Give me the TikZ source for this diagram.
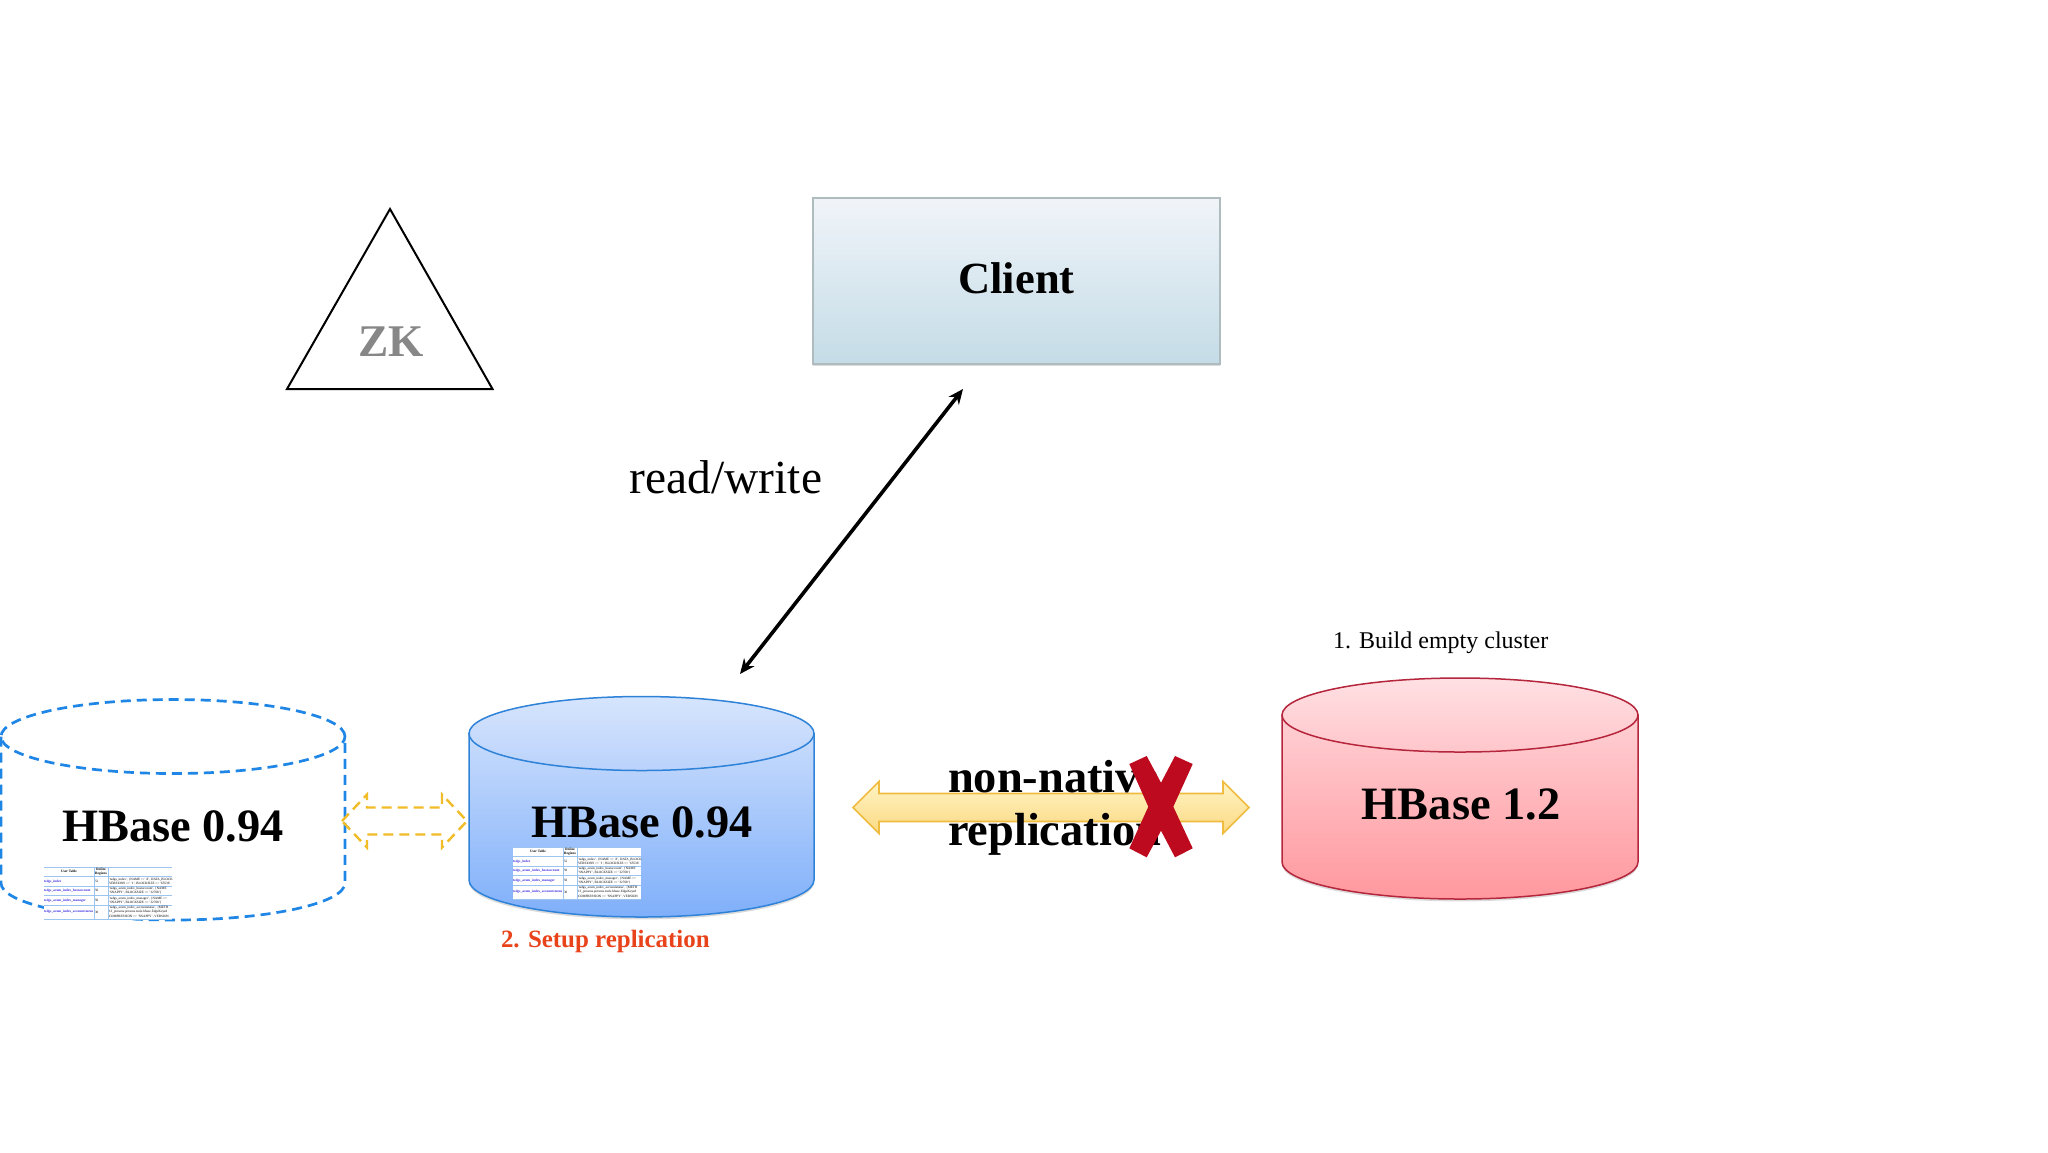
\documentclass[tikz,border=0pt]{standalone}
\usepackage{fontspec}
\setmainfont{Liberation Serif}
\usetikzlibrary{arrows.meta,shadows}
\def\px{0.375pt}
\definecolor{cylBlueLine}{HTML}{2E82D8}
\definecolor{dashBlue}{HTML}{1F86E6}
\definecolor{cylRedLine}{HTML}{B5253C}
\definecolor{arrowGold}{HTML}{F0BC40}
\definecolor{dashGold}{HTML}{F0BC28}
\definecolor{crossRed}{HTML}{BE0A1E}
\definecolor{stepOrange}{HTML}{E8431A}
\definecolor{zkGrey}{HTML}{878787}
\definecolor{tblGrid}{HTML}{9CC4F0}
\definecolor{tblLink}{HTML}{3A2BE0}
\definecolor{clientLine}{HTML}{AEBCC0}
\definecolor{clientTop}{HTML}{F0F4F9}
\definecolor{clientBottom}{HTML}{C4DCE6}
\tikzset{
  softshadow/.style={drop shadow={opacity=.28,shadow xshift=0pt,shadow yshift=-0.9pt}},
  lbl/.style={inner sep=0pt,outer sep=0pt,anchor=base},
  lblwest/.style={inner sep=0pt,outer sep=0pt,anchor=base west},
  bigtext/.style={lbl,font=\fontsize{17.4}{20}\selectfont\bfseries},
  tablecell/.style={inner sep=0pt,outer sep=0pt,font=\fontsize{1.25}{1.55}\selectfont,align=left},
  tablelink/.style={tablecell,anchor=west,text=tblLink,font=\fontsize{1.3}{1.55}\selectfont\bfseries},
  tablehead/.style={tablecell,anchor=center,align=center,font=\fontsize{1.3}{1.55}\selectfont\bfseries},
  tablegrid/.style={draw=tblGrid,line width=1*\px},
  dashedline/.style={line width=2.7*\px,dash pattern=on 10*\px off 6*\px},
}
% cylinder geometry: #1 left, #2 right, #3 centre y of the top, #4 centre y of the bottom
\newcommand\cylbody[5]{\path[#5] (#1,#3) -- (#1,#4)
   arc[start angle=180,end angle=360,x radius={(#2-#1)/2*0.375pt},y radius={37*0.375pt}] -- (#2,#3) -- cycle;}
\newcommand\cyltop[4]{\path[#4] ({(#1+#2)/2},#3) ellipse[x radius={(#2-#1)/2*0.375pt},y radius={37*0.375pt}];}
% double block arrow: left tip, right tip, centre y, left neck, right neck, half shaft, half head, style
\newcommand\blockarrow[8]{\path[#8] (#1,#3) -- (#4,#3-#7) -- (#4,#3-#6) -- (#5,#3-#6) -- (#5,#3-#7)
   -- (#2,#3) -- (#5,#3+#7) -- (#5,#3+#6) -- (#4,#3+#6) -- (#4,#3+#7) -- cycle;}
% small table: x, y, name prefix
\newcommand\hbtable[3]{\begin{scope}[shift={(#1,#2)}]
  \fill[white] (0,0) rectangle (128,52);
  \draw[tablegrid] (0,0) -- (128,0) (0,9.5) -- (128,9.5) (0,19) -- (128,19) (0,28.5) -- (128,28.5)
     (0,38) -- (128,38) (0,52) -- (128,52) (50,0) -- (50,52) (64,0) -- (64,52);
  \node[tablehead] (#3h1) at (25,4.7) {User Table};
  \node[tablehead] (#3h2) at (57,4.7) {Online\\[-0.1pt]Regions};
  \node[tablelink] (#3a1) at (0,14.2) {tsdgs\_index};
  \node[tablelink] (#3a2) at (0,23.7) {tsdgs\_acum\_index\_hostaccount};
  \node[tablelink] (#3a3) at (0,33.2) {tsdgs\_acum\_index\_manager};
  \node[tablelink] (#3a4) at (0,45) {tsdgs\_acum\_index\_accountstatus};
  \node[tablecell,anchor=west] (#3b1) at (51,14.2) {52};
  \node[tablecell,anchor=west] (#3b2) at (51,23.7) {50};
  \node[tablecell,anchor=west] (#3b3) at (51,33.2) {50};
  \node[tablecell,anchor=west] (#3b4) at (51,45) {30};
  \begin{scope}
    \clip (64,0) rectangle (128,52);
    \node[tablecell,anchor=west] (#3c1) at (65,14.2) {'tsdgs\_index', \{NAME => 'd', DATA\_BLOCK\\VERSIONS => '1', BLOCKSIZE => '65536'};
    \node[tablecell,anchor=west] (#3c2) at (65,23.7) {'tsdgs\_acum\_index\_hostaccount', \{NAME\\'SNAPPY', BLOCKSIZE => '32768'\}};
    \node[tablecell,anchor=west] (#3c3) at (65,33.2) {'tsdgs\_acum\_index\_manager', \{NAME =>\\'SNAPPY', BLOCKSIZE => '32768'\}};
    \node[tablecell,anchor=west] (#3c4) at (65,45) {'tsdgs\_acum\_index\_accountstatus', \{METH\\13\_persons.persons.tools.hbase.EdgeKeyed\\COMPRESSION => 'SNAPPY', VERSION};
  \end{scope}
\end{scope}}
\begin{document}
\begin{tikzpicture}[x=0.375pt,y=-0.375pt]
\useasboundingbox (0,0) rectangle (2048,1152);
\fill[white] (0,0) rectangle (2048,1152);

% ZK triangle
\draw[line width=2*\px,line join=miter,draw=black] (390,209) -- (492.5,389) -- (287,389) -- cycle;
\draw[line width=2.8*\px,draw=black] (287,389) -- (492.5,389);
\node[lbl,text=zkGrey,font=\fontsize{17}{20}\selectfont\bfseries] (zk) at (391.5,356) {ZK};

% Client
\path[draw=clientLine,line width=1.2*\px,top color=clientTop,bottom color=clientBottom,softshadow] (813,198) rectangle (1220,364);
\node[bigtext,font=\fontsize{16.7}{20}\selectfont\bfseries] (client) at (1016.5,293) {Client};

% read/write connector
\coordinate (rwTop) at (963,389);
\coordinate (rwBottom) at (740,674);
\draw[{Stealth[length=15*\px,width=13*\px]}-{Stealth[length=15*\px,width=13*\px]},line width=3.6*\px,black] (rwBottom) -- (rwTop);
\node[lbl,font=\fontsize{17.8}{22}\selectfont] (rw) at (726,493) {read/write};

% Dashed HBase 0.94
\path[draw=dashBlue,dashedline,line cap=butt] (1,736.5) -- (1,883)
   arc[start angle=180,end angle=360,x radius=172*\px,y radius=37*\px] -- (345,736.5);
\cyltop{1}{345}{736.5}{draw=dashBlue,dashedline}
\node[bigtext] (oldcopy) at (173,841) {HBase 0.94};
\hbtable{44}{867}{s}

% Dashed yellow arrow
\blockarrow{342}{467}{821}{367}{442}{13.5}{26.5}{draw=dashGold,dashedline,line width=2.4*\px}

% Blue cylinder
\cylbody{469}{814}{733.5}{880}{fill=white,softshadow}
\shade[top color={rgb,255:red,200;green,220;blue,252},bottom color={rgb,255:red,127;green,175;blue,250}]
   (469,733.5) -- (469,880) arc[start angle=180,end angle=360,x radius=172.5*\px,y radius=37*\px] -- (814,733.5) -- cycle;
\cylbody{469}{814}{733.5}{880}{draw=cylBlueLine,line width=1.5*\px}
\cyltop{469}{814}{733.5}{draw=cylBlueLine,line width=1.5*\px,top color={rgb,255:red,214;green,229;blue,253},bottom color={rgb,255:red,186;green,210;blue,251}}
\node[bigtext] (oldmain) at (642,837) {HBase 0.94};
\hbtable{513}{847}{m}
\node[lblwest,text=stepOrange,font=\fontsize{9.35}{11}\selectfont\bfseries] (setup) at (501,947) {2. Setup replication};

% Red cylinder
\cylbody{1282}{1638}{715}{862}{fill=white,softshadow}
\shade[top color={rgb,255:red,255;green,208;blue,212},bottom color={rgb,255:red,255;green,152;blue,158}]
   (1282,715) -- (1282,862) arc[start angle=180,end angle=360,x radius=178*\px,y radius=37*\px] -- (1638,715) -- cycle;
\cylbody{1282}{1638}{715}{862}{draw=cylRedLine,line width=1.5*\px}
\cyltop{1282}{1638}{715}{draw=cylRedLine,line width=1.5*\px,top color={rgb,255:red,255;green,224;blue,227},bottom color={rgb,255:red,255;green,198;blue,203}}
\node[bigtext] (newcluster) at (1461,819) {HBase 1.2};
\node[lblwest,font=\fontsize{9}{11}\selectfont] (build) at (1333,648) {1. Build empty cluster};

% Yellow block arrow, its text, and the cross
\blockarrow{853}{1249}{807.5}{879}{1223}{14}{26}{draw=arrowGold,line width=1.6*\px,top color={rgb,255:red,255;green,243;blue,196},bottom color={rgb,255:red,251;green,218;blue,131},line join=miter}
\node[lblwest,font=\fontsize{17.4}{20}\selectfont\bfseries] (nonnative) at (948,792) {non-native};
\node[lblwest,font=\fontsize{17.4}{20}\selectfont\bfseries] (replication) at (948,845) {replication};
\fill[crossRed] (1129.3,764) -- (1146.7,756) -- (1161,782.7) -- (1175,756) -- (1192.7,764) -- (1173.3,806.7)
   -- (1192.7,848.3) -- (1175,857.3) -- (1161,830.7) -- (1146.7,857.3) -- (1129.3,848.3) -- (1148.3,806.7) -- cycle;
\end{tikzpicture}
\end{document}
